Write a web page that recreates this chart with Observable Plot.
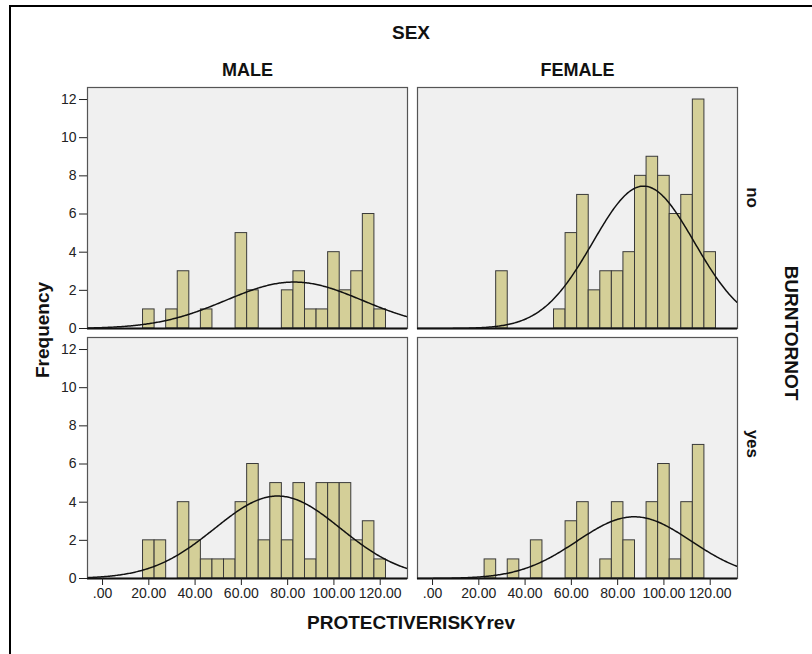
<!DOCTYPE html>
<html>
<head>
<meta charset="utf-8">
<script src="https://cdn.jsdelivr.net/npm/d3@7"></script>
<script src="https://cdn.jsdelivr.net/npm/@observablehq/plot@0.6"></script>
<style>
  html, body { margin: 0; padding: 0; background: #fff; }
  #wrap { position: relative; width: 812px; height: 654px; overflow: hidden; }
  #frame { position: absolute; left: 9px; top: 5px; width: 900px; height: 900px;
           border-left: 2px solid #000; border-top: 2px solid #000; box-sizing: border-box; }
  #chart { position: absolute; left: 0; top: 0; }
</style>
</head>
<body>
<div id="wrap"><div id="frame"></div><div id="chart"></div></div>
<script>
// Panels: SEX across, BURNTORNOT down
const sexes = ["MALE", "FEMALE"];
const burntOrNot = ["no", "yes"];

// Histogram bins of PROTECTIVERISKYrev (width 5, labelled by bin centre)
const binWidth = 5;
const binCenters = [20, 25, 30, 35, 40, 45, 50, 55, 60, 65, 70, 75, 80, 85, 90, 95, 100, 105, 110, 115, 120];

// Frequencies per bin, one array per panel
const maleNo    = [1, 0, 1, 3, 0, 1, 0, 0, 5, 2, 0, 0, 2, 3, 1, 1, 4, 2, 3, 6, 1];
const femaleNo  = [0, 0, 3, 0, 0, 0, 0, 1, 5, 7, 2, 3, 3, 4, 8, 9, 8, 6, 7, 12, 4];
const maleYes   = [2, 2, 0, 4, 2, 1, 1, 1, 4, 6, 2, 5, 2, 5, 1, 5, 5, 5, 2, 3, 1];
const femaleYes = [0, 1, 0, 1, 0, 2, 0, 0, 3, 4, 0, 1, 4, 2, 0, 4, 6, 1, 4, 7, 0];

// Axis ticks
const xTicks = [0, 20, 40, 60, 80, 100, 120];
const yTicks = [0, 2, 4, 6, 8, 10, 12];
const xDomain = [-6.5, 131.8];
const yDomain = [0, 12.63];

const panels = [
  {sex: "MALE", burnt: "no", counts: maleNo},
  {sex: "FEMALE", burnt: "no", counts: femaleNo},
  {sex: "MALE", burnt: "yes", counts: maleYes},
  {sex: "FEMALE", burnt: "yes", counts: femaleYes}
];

// Bars table
const bars = panels.flatMap(p => binCenters.map((c, i) => ({
  sex: p.sex, burnt: p.burnt, x1: c - binWidth / 2, x2: c + binWidth / 2, count: p.counts[i]
})).filter(d => d.count > 0));

// Normal curve fitted to each panel's frequencies (scaled to counts per bin)
const curves = panels.flatMap(p => {
  const n = d3.sum(p.counts);
  const mean = d3.sum(binCenters, (c, i) => c * p.counts[i]) / n;
  const sd = Math.sqrt(d3.sum(binCenters, (c, i) => p.counts[i] * (c - mean) ** 2) / (n - 1));
  const pts = [];
  for (let x = xDomain[0]; x <= xDomain[1] + 1e-9; x += 0.5) {
    const y = n * binWidth / (sd * Math.sqrt(2 * Math.PI)) * Math.exp(-((x - mean) ** 2) / (2 * sd * sd));
    pts.push({sex: p.sex, burnt: p.burnt, x, y});
  }
  return pts;
});

const sexLabels = sexes.map(s => ({sex: s, burnt: "no"}));
const burntLabels = burntOrNot.map(b => ({sex: "FEMALE", burnt: b}));

const font = "'Liberation Sans', Arial, sans-serif";
const fmtX = d => d === 0 ? ".00" : d.toFixed(2);

const chart = Plot.plot({
  width: 812,
  height: 654,
  marginLeft: 86,
  marginRight: 74,
  marginTop: 87,
  marginBottom: 76,
  style: {fontFamily: font, fontSize: "14px", color: "#222", background: "transparent"},
  fx: {domain: sexes, axis: null, padding: 0.0302},
  fy: {domain: burntOrNot, axis: null, padding: 0.036},
  x: {domain: xDomain},
  y: {domain: yDomain},
  marks: [
    Plot.frame({fill: "#f0f0f0"}),
    Plot.rectY(bars, {x1: "x1", x2: "x2", y: "count", fx: "sex", fy: "burnt",
      fill: "#d4cf98", stroke: "#3a3a3a", strokeWidth: 1}),
    Plot.line(curves, {x: "x", y: "y", fx: "sex", fy: "burnt", z: null,
      stroke: "#111", strokeWidth: 1.5, clip: true}),
    Plot.frame({stroke: "#555", strokeWidth: 1.2}),
    Plot.ruleY([0], {stroke: "#111", strokeWidth: 2}),
    Plot.axisY({ticks: yTicks, tickSize: 8, tickPadding: 3, label: null, fontSize: 14}),
    Plot.axisX({ticks: xTicks, tickFormat: fmtX, tickSize: 7, tickPadding: 3, label: null, fontSize: 14}),
    Plot.text(sexLabels, {fx: "sex", fy: "burnt", text: "sex", frameAnchor: "top", dy: -17,
      lineAnchor: "middle", fontSize: 18, fontWeight: "bold", fill: "#111"}),
    Plot.text(burntLabels, {fx: "sex", fy: "burnt", text: "burnt", frameAnchor: "right", dx: 15,
      rotate: 90, lineAnchor: "middle", fontSize: 17, fontWeight: "bold", fill: "#111"})
  ]
});

document.getElementById("chart").appendChild(chart);

// Variable titles
const svg = d3.select(chart);
const title = (text, x, y, rotate) => svg.append("text")
  .attr("transform", `translate(${x},${y}) rotate(${rotate})`)
  .attr("text-anchor", "middle")
  .attr("dominant-baseline", "central")
  .attr("font-family", font)
  .attr("font-size", 19)
  .attr("font-weight", "bold")
  .attr("fill", "#111")
  .text(text);
title("SEX", 411, 32, 0);
title("BURNTORNOT", 791, 333, 90);
title("Frequency", 42, 330, -90);
title("PROTECTIVERISKYrev", 411, 622, 0);
</script>
</body>
</html>
